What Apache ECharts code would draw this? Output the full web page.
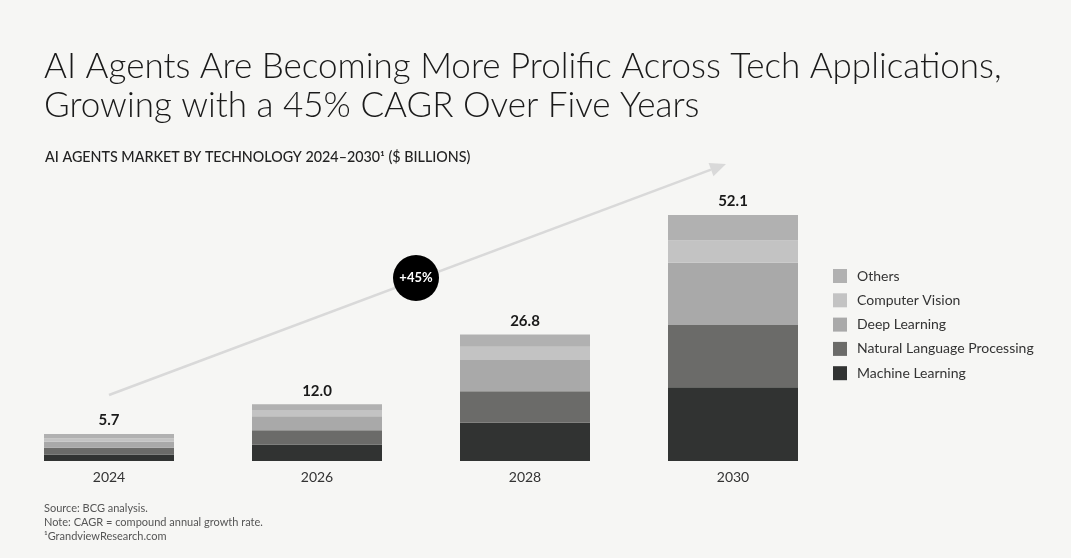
<!DOCTYPE html>
<html>
<head>
<meta charset="utf-8">
<script src="https://cdn.jsdelivr.net/npm/echarts@6/dist/echarts.min.js"></script>
<style>
  html, body { margin: 0; padding: 0; background: #f6f6f4; }
  #chart { width: 1071px; height: 558px; }
</style>
</head>
<body>
<div id="chart"></div>
<script>
// ---- Data ----
const years = ['2024', '2026', '2028', '2030'];
const machineLearning = [1.4, 3.5, 8.1, 15.6];
const nlp = [1.4, 3.0, 6.7, 13.2];
const deepLearning = [1.3, 3.0, 6.6, 13.2];
const computerVision = [0.7, 1.3, 2.8, 4.7];
const others = [0.9, 1.2, 2.6, 5.4];
const totals = [5.7, 12.0, 26.8, 52.1];
const legendOrder = ['Others', 'Computer Vision', 'Deep Learning', 'Natural Language Processing', 'Machine Learning'];
const colors = {
  'Machine Learning': '#313332',
  'Natural Language Processing': '#6b6b69',
  'Deep Learning': '#a9a9a9',
  'Computer Vision': '#c3c3c3',
  'Others': '#b1b1b1'
};

const FONT = 'Lato, "Noto Sans", sans-serif';
const chart = echarts.init(document.getElementById('chart'));

function barSeries(name, data, withTotal) {
  const s = {
    name: name,
    type: 'bar',
    stack: 'total',
    data: data,
    barWidth: 130,
    itemStyle: { color: colors[name] },
    emphasis: { disabled: true }
  };
  if (withTotal) {
    s.label = {
      show: true,
      position: 'top',
      distance: 6,
      formatter: p => totals[p.dataIndex].toFixed(1),
      fontFamily: FONT,
      fontSize: 15,
      fontWeight: 'bold',
      color: '#1a1a1a'
    };
  }
  return s;
}

// arrow geometry (decorative annotation)
const ax1 = 109, ay1 = 395, ax2 = 726, ay2 = 164;
const dx = ax2 - ax1, dy = ay2 - ay1, len = Math.sqrt(dx * dx + dy * dy);
const ux = dx / len, uy = dy / len, px = -uy, py = ux;
const headL = 16, headW = 7;
const bx = ax2 - ux * headL, by = ay2 - uy * headL;

const option = {
  backgroundColor: '#f6f6f4',
  animation: false,
  title: [
    {
      text: 'AI Agents Are Becoming More Prolific Across Tech Applications,\nGrowing with a 45% CAGR Over Five Years',
      left: 44, top: 47, padding: 0,
      textStyle: { fontFamily: FONT, fontSize: 35, fontWeight: 300, color: '#1a1a1a', lineHeight: 39 }
    },
    {
      text: 'AI AGENTS MARKET BY TECHNOLOGY 2024–2030¹ ($ BILLIONS)',
      left: 45, top: 149, padding: 0,
      textStyle: { fontFamily: FONT, fontSize: 14.3, fontWeight: 500, color: '#222', lineHeight: 16 }
    },
    {
      text: 'Source: BCG analysis.\nNote: CAGR = compound annual growth rate.\n¹GrandviewResearch.com',
      left: 44, top: 501, padding: 0,
      textStyle: { fontFamily: FONT, fontSize: 11, fontWeight: 'normal', color: '#555', lineHeight: 14 }
    }
  ],
  legend: {
    data: legendOrder,
    orient: 'vertical',
    left: 833, top: 269,
    padding: 0,
    icon: 'rect',
    itemWidth: 14, itemHeight: 14,
    itemGap: 10.3,
    selectedMode: false,
    textStyle: { fontFamily: FONT, fontSize: 14, color: '#333', padding: [0, 0, 0, 5] }
  },
  grid: { left: 5, width: 832, top: 461 - 283.2, height: 283.2 },
  xAxis: {
    type: 'category',
    data: years,
    axisLine: { show: false },
    axisTick: { show: false },
    axisLabel: { fontFamily: FONT, fontSize: 14, color: '#333', margin: 9 }
  },
  yAxis: {
    type: 'value', min: 0, max: 60, show: false, splitLine: { show: false }
  },
  series: [
    barSeries('Machine Learning', machineLearning),
    barSeries('Natural Language Processing', nlp),
    barSeries('Deep Learning', deepLearning),
    barSeries('Computer Vision', computerVision),
    barSeries('Others', others, true)
  ],
  graphic: [
    {
      type: 'line', z: 1,
      shape: { x1: ax1, y1: ay1, x2: bx, y2: by },
      style: { stroke: '#d9d9d9', lineWidth: 2.5 }
    },
    {
      type: 'polygon', z: 1,
      shape: { points: [[ax2, ay2], [bx + px * headW, by + py * headW], [bx - px * headW, by - py * headW]] },
      style: { fill: '#d9d9d9' }
    },
    {
      type: 'circle', z: 5,
      shape: { cx: 416, cy: 278, r: 23 },
      style: { fill: '#000' }
    },
    {
      type: 'text', z: 6,
      x: 416, y: 278,
      style: { text: '+45%', fill: '#fff', fontFamily: FONT, fontSize: 13, fontWeight: 'bold', align: 'center', verticalAlign: 'middle' }
    }
  ]
};
chart.setOption(option);
</script>
</body>
</html>
